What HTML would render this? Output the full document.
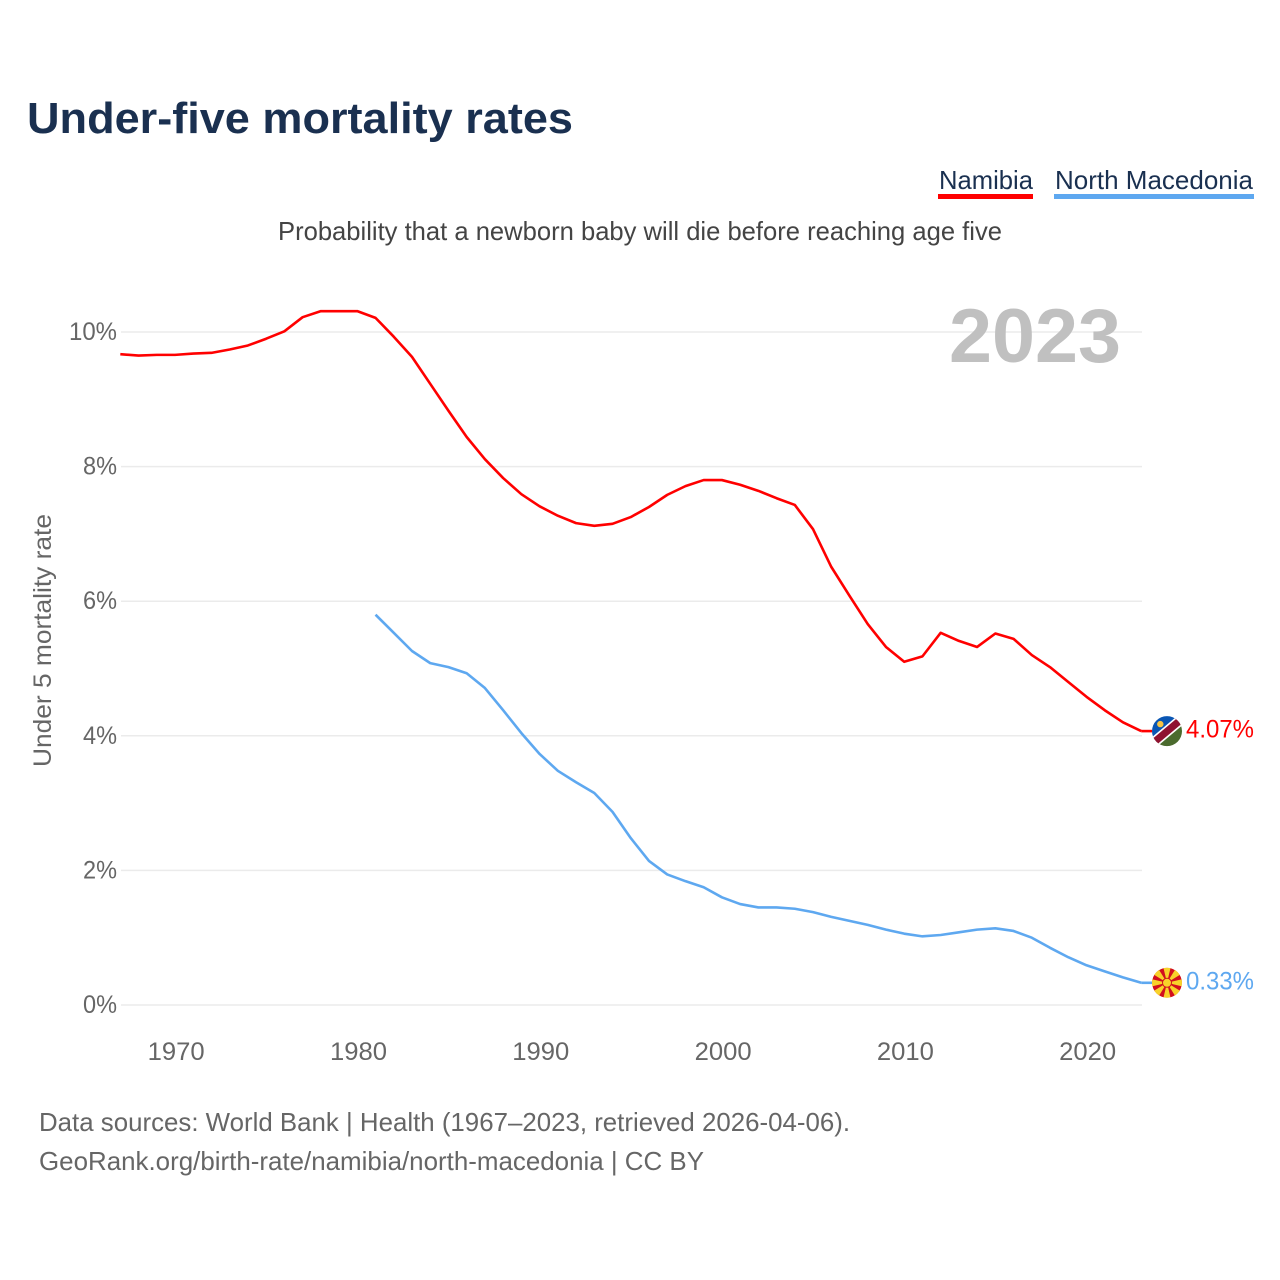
<!DOCTYPE html>
<html lang="en">
<head>
<meta charset="utf-8">
<title>Under-five mortality rates</title>
<style>
html,body{margin:0;padding:0;background:#fff;width:1280px;height:1280px;overflow:hidden}
svg{display:block;font-family:"Liberation Sans",sans-serif}
</style>
</head>
<body>
<svg id="chart" xmlns="http://www.w3.org/2000/svg" width="1280" height="1280" viewBox="0 0 1280 1280">
  <defs>
    <clipPath id="flag-clip"><circle cx="0" cy="0" r="15"/></clipPath>
  </defs>
  <rect x="0" y="0" width="1280" height="1280" fill="#ffffff"/>
  <text x="27" y="133" font-size="44" font-weight="700" fill="#1a3050" textLength="546" lengthAdjust="spacingAndGlyphs">Under-five mortality rates</text>
  <g>
    <g>
      <text x="939" y="189" font-size="26" fill="#1a3050" textLength="94" lengthAdjust="spacingAndGlyphs">Namibia</text>
      <rect x="938" y="194" width="95" height="5" fill="#ff0000"/>
    </g>
    <g>
      <text x="1055" y="189" font-size="26" fill="#1a3050" textLength="198" lengthAdjust="spacingAndGlyphs">North Macedonia</text>
      <rect x="1054" y="194" width="200" height="5" fill="#5ea8f0"/>
    </g>
  </g>
  <text x="278" y="240" font-size="26" fill="#444444" textLength="724" lengthAdjust="spacingAndGlyphs">Probability that a newborn baby will die before reaching age five</text>
  <g id="grid"></g>
  <g id="y-ticks"></g>
  <g id="x-ticks"></g>
  <text x="949" y="362" font-size="76" font-weight="700" fill="#c0c0c0" textLength="172" lengthAdjust="spacingAndGlyphs">2023</text>
  <text transform="translate(51,767) rotate(-90)" x="0" y="0" font-size="25" fill="#666666" textLength="253" lengthAdjust="spacingAndGlyphs">Under 5 mortality rate</text>
  <g id="series"></g>
  <g id="flag-namibia" clip-path="url(#flag-clip)">
    <g transform="rotate(-40)">
      <rect x="-20" y="-20" width="40" height="20" fill="#0a56b4"/>
      <rect x="-20" y="0" width="40" height="20" fill="#4b6b2e"/>
      <rect x="-20" y="-5" width="40" height="10.5" fill="#ffffff"/>
      <rect x="-20" y="-3.4" width="40" height="7.2" fill="#8f1230"/>
    </g>
    <circle cx="-6.7" cy="-7" r="3.2" fill="#f6c445"/>
  </g>
  <g id="flag-macedonia" clip-path="url(#flag-clip)">
    <circle cx="0" cy="0" r="15" fill="#d20f1e"/>
    <polygon points="-3.8,-16 3.8,-16 0,0" fill="#f8d22a"/>
    <polygon points="-3.8,-16 3.8,-16 0,0" fill="#f8d22a" transform="rotate(45)"/>
    <polygon points="-3.8,-16 3.8,-16 0,0" fill="#f8d22a" transform="rotate(90)"/>
    <polygon points="-3.8,-16 3.8,-16 0,0" fill="#f8d22a" transform="rotate(135)"/>
    <polygon points="-3.8,-16 3.8,-16 0,0" fill="#f8d22a" transform="rotate(180)"/>
    <polygon points="-3.8,-16 3.8,-16 0,0" fill="#f8d22a" transform="rotate(225)"/>
    <polygon points="-3.8,-16 3.8,-16 0,0" fill="#f8d22a" transform="rotate(270)"/>
    <polygon points="-3.8,-16 3.8,-16 0,0" fill="#f8d22a" transform="rotate(315)"/>
    <circle cx="0" cy="0" r="5" fill="#d20f1e"/>
    <circle cx="0" cy="0" r="4" fill="#f8d22a"/>
  </g>
  <text id="end-label-namibia" x="1186" font-size="25" fill="#ff0000" textLength="68" lengthAdjust="spacingAndGlyphs"></text>
  <text id="end-label-macedonia" x="1186" font-size="25" fill="#5ea8f0" textLength="68" lengthAdjust="spacingAndGlyphs"></text>
  <g>
    <text x="39" y="1131" font-size="26" fill="#666666" textLength="811" lengthAdjust="spacingAndGlyphs">Data sources: World Bank | Health (1967–2023, retrieved 2026-04-06).</text>
    <text x="39" y="1170" font-size="26" fill="#666666" textLength="665" lengthAdjust="spacingAndGlyphs">GeoRank.org/birth-rate/namibia/north-macedonia | CC BY</text>
  </g>
</svg>
<script>
const namibiaStartYear = 1967;
const namibiaValues = [9.67,9.65,9.66,9.66,9.68,9.69,9.74,9.80,9.90,10.01,10.22,10.31,10.31,10.31,10.21,9.93,9.63,9.23,8.83,8.44,8.11,7.83,7.59,7.41,7.27,7.16,7.12,7.15,7.25,7.40,7.58,7.71,7.80,7.80,7.73,7.64,7.53,7.43,7.07,6.51,6.08,5.66,5.32,5.10,5.18,5.53,5.41,5.32,5.52,5.44,5.20,5.02,4.80,4.58,4.38,4.20,4.07];
const macedoniaStartYear = 1981;
const macedoniaValues = [5.80,5.53,5.26,5.08,5.02,4.93,4.71,4.38,4.04,3.73,3.48,3.31,3.15,2.87,2.48,2.14,1.94,1.84,1.75,1.60,1.50,1.45,1.45,1.43,1.38,1.31,1.25,1.19,1.12,1.06,1.02,1.04,1.08,1.12,1.14,1.10,1.00,0.85,0.71,0.59,0.50,0.41,0.33];
const yTickValues = [0,2,4,6,8,10];
const yTickLabels = ['0%','2%','4%','6%','8%','10%'];
const xTickYears = [1970,1980,1990,2000,2010,2020];
const xTickLabels = ['1970','1980','1990','2000','2010','2020'];

const NS = 'http://www.w3.org/2000/svg';
function xScale(year){ return 175 + (year - 1970) * 18.23; }
function yScale(value){ return 1005 - value * 67.3; }
function make(tag, attrs, parent){
  const el = document.createElementNS(NS, tag);
  for (const k in attrs) el.setAttribute(k, attrs[k]);
  parent.appendChild(el);
  return el;
}

const grid = document.getElementById('grid');
const yTicks = document.getElementById('y-ticks');
const xTicks = document.getElementById('x-ticks');
const series = document.getElementById('series');

yTickValues.forEach(function(v, i){
  const line = make('line', {x1: 121, x2: 1142, y1: yScale(v), y2: yScale(v), stroke: '#ebebeb', 'stroke-width': 1.5}, grid);
  
  
  const label = make('text', {x: 117, y: yScale(v) + 8, 'text-anchor': 'end', 'font-size': 25, fill: '#666666', textLength: yTickLabels[i].length > 2 ? 48 : 34, lengthAdjust: 'spacingAndGlyphs'}, yTicks);
  
  
  label.textContent = yTickLabels[i];
});

xTickYears.forEach(function(y, i){
  const label = make('text', {x: xScale(y) + 1.2, y: 1060, 'text-anchor': 'middle', 'font-size': 25, fill: '#666666', textLength: 57, lengthAdjust: 'spacingAndGlyphs'}, xTicks);
  
  
  label.textContent = xTickLabels[i];
});

function pathFor(values, startYear){
  return values.map(function(v, i){
    return (i ? 'L' : 'M') + xScale(startYear + i).toFixed(2) + ' ' + yScale(v).toFixed(2);
  }).join(' ');
}

const namibiaLine = make('path', {d: pathFor(namibiaValues, namibiaStartYear), fill: 'none', stroke: '#ff0000', 'stroke-width': 2.6, 'stroke-linejoin': 'round'}, series);


const macedoniaLine = make('path', {d: pathFor(macedoniaValues, macedoniaStartYear), fill: 'none', stroke: '#5ea8f0', 'stroke-width': 2.6, 'stroke-linejoin': 'round'}, series);



function placeEnd(values, flagId, labelId){
  const last = values[values.length - 1];
  const y = yScale(last);
  const xEnd = xScale(2023);
  const stub = make('line', {x1: xEnd, x2: 1152, y1: y, y2: y, stroke: flagId === 'flag-namibia' ? '#ff0000' : '#5ea8f0', 'stroke-width': 2.6}, series);
  
  
  document.getElementById(flagId).setAttribute('transform', 'translate(1167,' + y.toFixed(2) + ')');
  const label = document.getElementById(labelId);
  label.setAttribute('y', (y + 6.5).toFixed(2));
  label.textContent = last.toFixed(2) + '%';
}
placeEnd(namibiaValues, 'flag-namibia', 'end-label-namibia');
placeEnd(macedoniaValues, 'flag-macedonia', 'end-label-macedonia');
</script>
</body>
</html>
